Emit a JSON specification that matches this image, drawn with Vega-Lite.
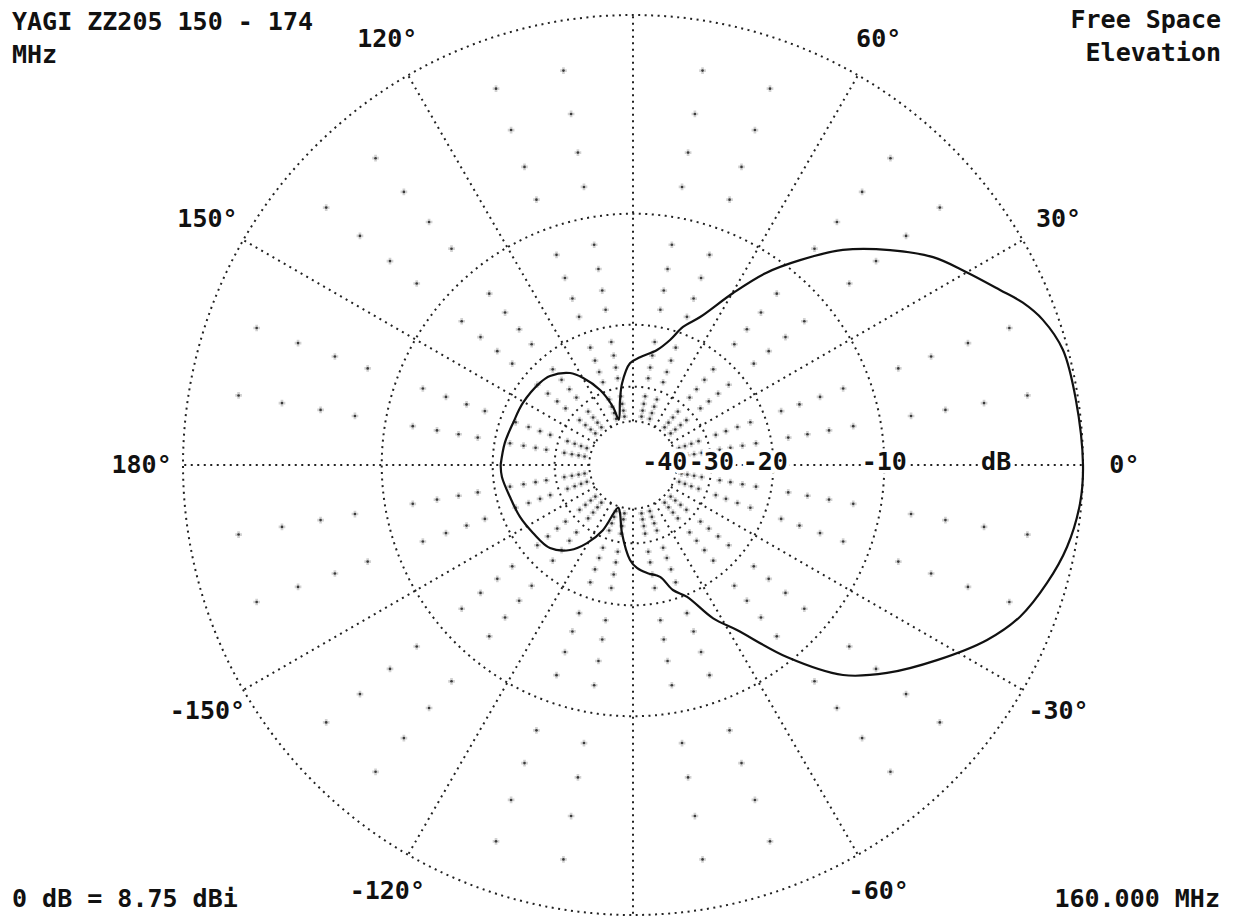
{
  "$schema": "https://vega.github.io/schema/vega-lite/v6.json",
  "width": 1238,
  "height": 917,
  "autosize": {"type": "none"},
  "padding": 0,
  "background": "white",
  "config": {"view": {"stroke": null}, "font": "DejaVu Sans Mono"},
  "datasets": {
    "pattern": [
      {"angle": -180, "db": -21.0},
      {"angle": -174.8, "db": -21.1},
      {"angle": -165.4, "db": -21.7},
      {"angle": -155.3, "db": -22.07},
      {"angle": -145.8, "db": -22.56},
      {"angle": -135, "db": -23.06},
      {"angle": -126.5, "db": -24.85},
      {"angle": -120.5, "db": -27.5},
      {"angle": -114.8, "db": -31.5},
      {"angle": -109.2, "db": -39.5},
      {"angle": -105.2, "db": -37.8},
      {"angle": -99.2, "db": -32.2},
      {"angle": -91.8, "db": -26.7},
      {"angle": -87.8, "db": -25.3},
      {"angle": -82.6, "db": -24.35},
      {"angle": -76.4, "db": -23.4},
      {"angle": -72.3, "db": -21.15},
      {"angle": -67.7, "db": -19.73},
      {"angle": -62.4, "db": -16.4},
      {"angle": -57.8, "db": -14.35},
      {"angle": -51.3, "db": -10.36},
      {"angle": -45, "db": -7.13},
      {"angle": -39.3, "db": -5.41},
      {"angle": -32.7, "db": -3.77},
      {"angle": -26.3, "db": -2.24},
      {"angle": -21.4, "db": -1.36},
      {"angle": -15.9, "db": -0.76},
      {"angle": -10.7, "db": -0.32},
      {"angle": -4.9, "db": -0.05},
      {"angle": 0, "db": 0},
      {"angle": 8.4, "db": -0.09},
      {"angle": 15.0, "db": -0.19},
      {"angle": 19.5, "db": -0.59},
      {"angle": 22.6, "db": -1.09},
      {"angle": 25.5, "db": -1.74},
      {"angle": 30.1, "db": -2.68},
      {"angle": 34.7, "db": -3.59},
      {"angle": 39.9, "db": -5.06},
      {"angle": 45.7, "db": -6.93},
      {"angle": 50.8, "db": -9.13},
      {"angle": 55.3, "db": -11.25},
      {"angle": 59.8, "db": -14.0},
      {"angle": 65.6, "db": -17.48},
      {"angle": 70.1, "db": -19.22},
      {"angle": 73.5, "db": -21.26},
      {"angle": 78.2, "db": -23.05},
      {"angle": 86.3, "db": -24.5},
      {"angle": 91.7, "db": -25.5},
      {"angle": 97.6, "db": -29.1},
      {"angle": 101.3, "db": -32.9},
      {"angle": 107.4, "db": -38.6},
      {"angle": 109, "db": -34.2},
      {"angle": 113.7, "db": -29.25},
      {"angle": 119.9, "db": -25.7},
      {"angle": 124.4, "db": -23.95},
      {"angle": 133, "db": -22.45},
      {"angle": 138.6, "db": -22.1},
      {"angle": 150.6, "db": -21.8},
      {"angle": 160.7, "db": -21.7},
      {"angle": 170.2, "db": -21.3},
      {"angle": 180, "db": -21.0}
    ],
    "rings": [{"db": 0}, {"db": -10}, {"db": -20}, {"db": -30}, {"db": -40}],
    "spokes": [
      {"angle": 0}, {"angle": 30}, {"angle": 60}, {"angle": 90}, {"angle": 120}, {"angle": 150},
      {"angle": 180}, {"angle": 210}, {"angle": 240}, {"angle": 270}, {"angle": 300}, {"angle": 330}
    ],
    "minor": [
      {"db": -2, "angles": [10,20,40,50,70,80,100,110,130,140,160,170,190,200,220,230,250,260,280,290,310,320,340,350]},
      {"db": -4, "angles": [10,20,40,50,70,80,100,110,130,140,160,170,190,200,220,230,250,260,280,290,310,320,340,350]},
      {"db": -6, "angles": [10,20,40,50,70,80,100,110,130,140,160,170,190,200,220,230,250,260,280,290,310,320,340,350]},
      {"db": -8, "angles": [10,20,40,50,70,80,100,110,130,140,160,170,190,200,220,230,250,260,280,290,310,320,340,350]},
      {"db": -12, "angles": [10,20,40,50,70,80,100,110,130,140,160,170,190,200,220,230,250,260,280,290,310,320,340,350]},
      {"db": -14, "angles": [10,20,40,50,70,80,100,110,130,140,160,170,190,200,220,230,250,260,280,290,310,320,340,350]},
      {"db": -16, "angles": [10,20,40,50,70,80,100,110,130,140,160,170,190,200,220,230,250,260,280,290,310,320,340,350]},
      {"db": -18, "angles": [10,20,40,50,70,80,100,110,130,140,160,170,190,200,220,230,250,260,280,290,310,320,340,350]},
      {"db": -22, "angles": [10,20,40,50,70,80,100,110,130,140,160,170,190,200,220,230,250,260,280,290,310,320,340,350]},
      {"db": -24, "angles": [10,20,40,50,70,80,100,110,130,140,160,170,190,200,220,230,250,260,280,290,310,320,340,350]},
      {"db": -26, "angles": [10,20,40,50,70,80,100,110,130,140,160,170,190,200,220,230,250,260,280,290,310,320,340,350]},
      {"db": -28, "angles": [10,20,40,50,70,80,100,110,130,140,160,170,190,200,220,230,250,260,280,290,310,320,340,350]},
      {"db": -32, "angles": [10,20,40,50,70,80,100,110,130,140,160,170,190,200,220,230,250,260,280,290,310,320,340,350]},
      {"db": -34, "angles": [10,20,40,50,70,80,100,110,130,140,160,170,190,200,220,230,250,260,280,290,310,320,340,350]},
      {"db": -36, "angles": [10,20,40,50,70,80,100,110,130,140,160,170,190,200,220,230,250,260,280,290,310,320,340,350]},
      {"db": -38, "angles": [10,20,40,50,70,80,100,110,130,140,160,170,190,200,220,230,250,260,280,290,310,320,340,350]}
    ],
    "angleLabels": [
      {"angle": 0, "label": "0°"},
      {"angle": 30, "label": "30°"},
      {"angle": 60, "label": "60°"},
      {"angle": 120, "label": "120°"},
      {"angle": 150, "label": "150°"},
      {"angle": 180, "label": "180°"},
      {"angle": -150, "label": "-150°"},
      {"angle": -120, "label": "-120°"},
      {"angle": -60, "label": "-60°"},
      {"angle": -30, "label": "-30°"}
    ],
    "dbLabels": [
      {"db": -40, "label": "-40"},
      {"db": -30, "label": "-30"},
      {"db": -20, "label": "-20"},
      {"db": -10, "label": "-10"}
    ]
  },
  "layer": [
    {
      "data": {"name": "minor"},
      "transform": [
        {"flatten": ["angles"], "as": ["angle"]},
        {"calculate": "pow(0.89, -datum.db / 2)", "as": "r"},
        {"calculate": "datum.r * cos(datum.angle * PI / 180)", "as": "x"},
        {"calculate": "datum.r * sin(datum.angle * PI / 180)", "as": "y"}
      ],
      "mark": {"type": "point", "shape": "cross", "filled": true, "size": 45, "color": "#d2d2d2", "opacity": 1},
      "encoding": {
        "x": {"field": "x", "type": "quantitative", "scale": {"domain": [-1.406667, 1.344444], "nice": false, "zero": false}, "axis": null},
        "y": {"field": "y", "type": "quantitative", "scale": {"domain": [-1.004444, 1.033333], "nice": false, "zero": false}, "axis": null}
      }
    },
    {
      "data": {"name": "minor"},
      "transform": [
        {"flatten": ["angles"], "as": ["angle"]},
        {"calculate": "pow(0.89, -datum.db / 2)", "as": "r"},
        {"calculate": "datum.r * cos(datum.angle * PI / 180)", "as": "x"},
        {"calculate": "datum.r * sin(datum.angle * PI / 180)", "as": "y"}
      ],
      "mark": {"type": "point", "shape": "circle", "filled": true, "size": 7, "color": "#3a3a3a", "opacity": 1},
      "encoding": {
        "x": {"field": "x", "type": "quantitative"},
        "y": {"field": "y", "type": "quantitative"}
      }
    },
    {
      "data": {"name": "rings"},
      "transform": [{"calculate": "pow(0.89, -datum.db / 2)", "as": "r"}],
      "mark": {"type": "point", "shape": "circle", "filled": false, "color": "#222222", "strokeWidth": 2, "strokeDash": [2, 4.5], "opacity": 1},
      "encoding": {
        "x": {"datum": 0, "type": "quantitative"},
        "y": {"datum": 0, "type": "quantitative"},
        "size": {"field": "r", "type": "quantitative", "scale": {"type": "pow", "exponent": 2, "domain": [0, 1], "range": [0, 810000]}, "legend": null}
      }
    },
    {
      "data": {"name": "spokes"},
      "transform": [
        {"calculate": "pow(0.89, 20) * cos(datum.angle * PI / 180)", "as": "x"},
        {"calculate": "pow(0.89, 20) * sin(datum.angle * PI / 180)", "as": "y"},
        {"calculate": "cos(datum.angle * PI / 180)", "as": "x2"},
        {"calculate": "sin(datum.angle * PI / 180)", "as": "y2"}
      ],
      "mark": {"type": "rule", "color": "#222222", "strokeWidth": 2, "strokeDash": [2, 4.5]},
      "encoding": {
        "x": {"field": "x", "type": "quantitative"},
        "y": {"field": "y", "type": "quantitative"},
        "x2": {"field": "x2"},
        "y2": {"field": "y2"}
      }
    },
    {
      "data": {"name": "pattern"},
      "transform": [
        {"calculate": "pow(0.89, -datum.db / 2)", "as": "r"},
        {"calculate": "datum.r * cos(datum.angle * PI / 180)", "as": "x"},
        {"calculate": "datum.r * sin(datum.angle * PI / 180)", "as": "y"}
      ],
      "mark": {"type": "line", "color": "#111111", "strokeWidth": 2.2, "interpolate": "catmull-rom"},
      "encoding": {
        "x": {"field": "x", "type": "quantitative"},
        "y": {"field": "y", "type": "quantitative"},
        "order": {"field": "angle", "type": "quantitative"}
      }
    },
    {
      "data": {"name": "dbLabels"},
      "transform": [{"calculate": "pow(0.89, -datum.db / 2)", "as": "x"}],
      "mark": {"type": "text", "fontSize": 25, "fontWeight": "bold", "align": "center", "baseline": "alphabetic", "fill": "white", "stroke": "white", "strokeWidth": 7, "dx": {"expr": "datum.db == -40 ? -12 : datum.db == -20 ? -8 : 0"}},
      "encoding": {
        "x": {"field": "x", "type": "quantitative"},
        "y": {"datum": -0.0111, "type": "quantitative"},
        "text": {"field": "label"}
      }
    },
    {
      "data": {"name": "dbLabels"},
      "transform": [{"calculate": "pow(0.89, -datum.db / 2)", "as": "x"}],
      "mark": {"type": "text", "fontSize": 25, "fontWeight": "bold", "align": "center", "baseline": "alphabetic", "color": "#111111", "dx": {"expr": "datum.db == -40 ? -12 : datum.db == -20 ? -8 : 0"}},
      "encoding": {
        "x": {"field": "x", "type": "quantitative"},
        "y": {"datum": -0.0111, "type": "quantitative"},
        "text": {"field": "label"}
      }
    },
    {
      "data": {"values": [{"unit": "dB"}]},
      "mark": {"type": "text", "fontSize": 25, "fontWeight": "bold", "align": "center", "baseline": "alphabetic", "fill": "white", "stroke": "white", "strokeWidth": 7},
      "encoding": {
        "x": {"datum": 0.807, "type": "quantitative"},
        "y": {"datum": -0.0111, "type": "quantitative"},
        "text": {"field": "unit"}
      }
    },
    {
      "data": {"values": [{"unit": "dB"}]},
      "mark": {"type": "text", "fontSize": 25, "fontWeight": "bold", "align": "center", "baseline": "alphabetic", "color": "#111111"},
      "encoding": {
        "x": {"datum": 0.807, "type": "quantitative"},
        "y": {"datum": -0.0111, "type": "quantitative"},
        "text": {"field": "unit"}
      }
    },
    {
      "data": {"name": "angleLabels"},
      "transform": [
        {"calculate": "1.092 * cos(datum.angle * PI / 180)", "as": "x"},
        {"calculate": "1.092 * sin(datum.angle * PI / 180)", "as": "y"}
      ],
      "mark": {"type": "text", "fontSize": 25, "fontWeight": "bold", "align": "center", "baseline": "middle", "color": "#111111"},
      "encoding": {
        "x": {"field": "x", "type": "quantitative"},
        "y": {"field": "y", "type": "quantitative"},
        "text": {"field": "label"}
      }
    },
    {
      "data": {"values": [{"note": "YAGI ZZ205 150 - 174\nMHz"}]},
      "mark": {"type": "text", "fontSize": 25, "fontWeight": "bold", "align": "left", "baseline": "alphabetic", "lineHeight": 33, "lineBreak": "\n", "color": "#111111"},
      "encoding": {
        "x": {"datum": -1.38, "type": "quantitative"},
        "y": {"datum": 0.96667, "type": "quantitative"},
        "text": {"field": "note"}
      }
    },
    {
      "data": {"values": [{"note": "Free Space\nElevation"}]},
      "mark": {"type": "text", "fontSize": 25, "fontWeight": "bold", "align": "right", "baseline": "alphabetic", "lineHeight": 33, "lineBreak": "\n", "color": "#111111"},
      "encoding": {
        "x": {"datum": 1.3067, "type": "quantitative"},
        "y": {"datum": 0.97111, "type": "quantitative"},
        "text": {"field": "note"}
      }
    },
    {
      "data": {"values": [{"note": "0 dB = 8.75 dBi"}]},
      "mark": {"type": "text", "fontSize": 25, "fontWeight": "bold", "align": "left", "baseline": "alphabetic", "color": "#111111"},
      "encoding": {
        "x": {"datum": -1.38, "type": "quantitative"},
        "y": {"datum": -0.98222, "type": "quantitative"},
        "text": {"field": "note"}
      }
    },
    {
      "data": {"values": [{"note": "160.000 MHz"}]},
      "mark": {"type": "text", "fontSize": 25, "fontWeight": "bold", "align": "right", "baseline": "alphabetic", "color": "#111111"},
      "encoding": {
        "x": {"datum": 1.3044, "type": "quantitative"},
        "y": {"datum": -0.98222, "type": "quantitative"},
        "text": {"field": "note"}
      }
    }
  ]
}
